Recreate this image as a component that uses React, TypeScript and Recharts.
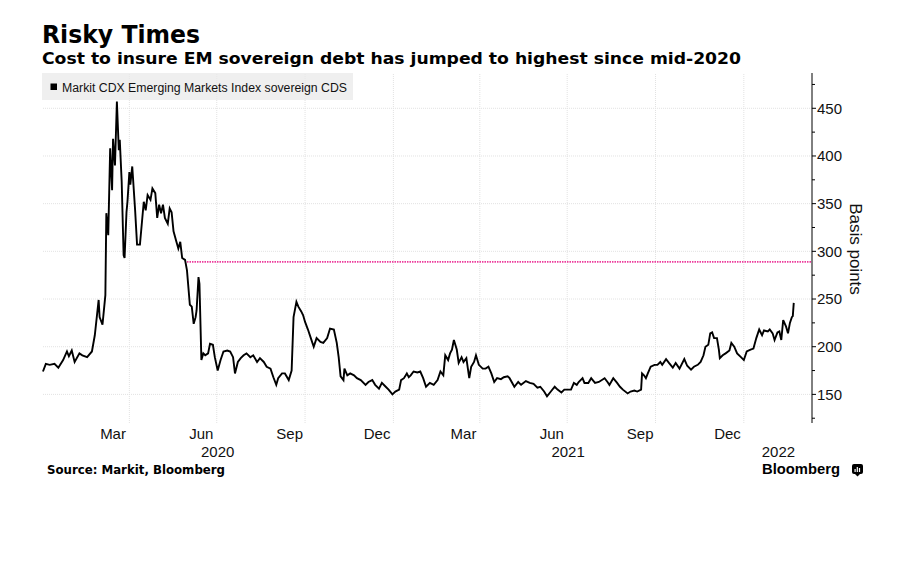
import React from "react";
import { LineChart, Line, XAxis, YAxis, ReferenceLine } from "recharts";

// Markit CDX EM sovereign index, basis points
const dates = [
  "2020-01-02", "2020-01-05", "2020-01-09", "2020-01-14", "2020-01-18", "2020-01-23", "2020-01-27", "2020-01-29",
  "2020-02-01", "2020-02-04", "2020-02-09", "2020-02-12", "2020-02-17", "2020-02-22", "2020-02-25", "2020-02-29",
  "2020-03-01", "2020-03-04", "2020-03-07", "2020-03-08", "2020-03-10", "2020-03-12", "2020-03-14", "2020-03-15",
  "2020-03-17", "2020-03-19", "2020-03-21", "2020-03-22", "2020-03-24", "2020-03-26", "2020-03-27", "2020-03-29", "2020-03-30",
  "2020-04-01", "2020-04-02", "2020-04-04", "2020-04-07", "2020-04-09", "2020-04-12", "2020-04-16", "2020-04-18",
  "2020-04-20", "2020-04-23", "2020-04-25", "2020-04-28", "2020-04-30",
  "2020-05-02", "2020-05-04", "2020-05-06", "2020-05-08", "2020-05-11", "2020-05-13", "2020-05-15", "2020-05-17",
  "2020-05-20", "2020-05-22", "2020-05-24", "2020-05-26", "2020-05-29", "2020-05-31",
  "2020-06-03", "2020-06-05", "2020-06-07", "2020-06-09", "2020-06-10", "2020-06-12", "2020-06-13", "2020-06-15",
  "2020-06-17", "2020-06-19", "2020-06-22", "2020-06-24", "2020-06-27", "2020-06-29",
  "2020-07-02", "2020-07-05", "2020-07-08", "2020-07-12", "2020-07-15", "2020-07-18", "2020-07-20", "2020-07-23", "2020-07-26", "2020-07-29",
  "2020-08-01", "2020-08-05", "2020-08-08", "2020-08-12", "2020-08-15", "2020-08-19", "2020-08-22", "2020-08-26", "2020-08-29",
  "2020-09-01", "2020-09-03", "2020-09-07", "2020-09-10", "2020-09-14", "2020-09-17", "2020-09-19", "2020-09-22", "2020-09-24", "2020-09-27", "2020-09-29",
  "2020-10-01", "2020-10-04", "2020-10-07", "2020-10-10", "2020-10-13", "2020-10-17", "2020-10-20", "2020-10-24", "2020-10-27", "2020-10-31",
  "2020-11-03", "2020-11-05", "2020-11-07", "2020-11-10", "2020-11-11", "2020-11-14", "2020-11-17", "2020-11-21", "2020-11-24", "2020-11-28",
  "2020-12-03", "2020-12-06", "2020-12-10", "2020-12-13", "2020-12-17", "2020-12-20", "2020-12-24", "2020-12-27", "2020-12-31",
  "2021-01-03", "2021-01-07", "2021-01-09", "2021-01-12", "2021-01-15", "2021-01-17", "2021-01-19", "2021-01-22", "2021-01-26", "2021-01-29",
  "2021-02-01", "2021-02-04", "2021-02-08", "2021-02-12", "2021-02-16", "2021-02-19", "2021-02-22", "2021-02-24", "2021-02-27",
  "2021-03-01", "2021-03-03", "2021-03-05", "2021-03-08", "2021-03-10", "2021-03-13", "2021-03-15", "2021-03-18",
  "2021-03-21", "2021-03-23", "2021-03-26", "2021-03-28", "2021-03-31",
  "2021-04-04", "2021-04-07", "2021-04-10", "2021-04-13", "2021-04-16", "2021-04-19", "2021-04-23", "2021-04-26", "2021-04-30",
  "2021-05-02", "2021-05-07", "2021-05-11", "2021-05-14", "2021-05-19", "2021-05-23", "2021-05-27", "2021-05-31",
  "2021-06-03", "2021-06-07", "2021-06-10", "2021-06-14", "2021-06-18", "2021-06-21", "2021-06-25", "2021-06-28",
  "2021-07-02", "2021-07-05", "2021-07-08", "2021-07-11", "2021-07-13", "2021-07-17", "2021-07-19", "2021-07-23", "2021-07-26", "2021-07-30",
  "2021-08-03", "2021-08-09", "2021-08-12", "2021-08-14", "2021-08-18", "2021-08-22", "2021-08-25", "2021-08-28",
  "2021-09-02", "2021-09-05", "2021-09-09", "2021-09-12", "2021-09-16", "2021-09-17", "2021-09-19", "2021-09-21", "2021-09-23", "2021-09-26", "2021-09-30",
  "2021-10-03", "2021-10-06", "2021-10-08", "2021-10-12", "2021-10-15", "2021-10-19", "2021-10-22", "2021-10-26", "2021-10-31",
  "2021-11-03", "2021-11-07", "2021-11-10", "2021-11-14", "2021-11-17", "2021-11-20", "2021-11-22", "2021-11-25", "2021-11-27", "2021-11-29",
  "2021-12-01", "2021-12-04", "2021-12-06", "2021-12-07", "2021-12-10", "2021-12-13", "2021-12-17", "2021-12-19", "2021-12-22", "2021-12-25", "2021-12-29",
  "2022-01-01", "2022-01-04", "2022-01-08", "2022-01-11", "2022-01-14", "2022-01-17", "2022-01-20", "2022-01-22", "2022-01-26", "2022-01-28", "2022-01-31",
  "2022-02-02", "2022-02-05", "2022-02-07", "2022-02-09", "2022-02-11", "2022-02-14", "2022-02-16", "2022-02-18", "2022-02-20", "2022-02-21", "2022-02-22",
];

const cds = [
  174, 182, 181, 182, 178, 186, 195, 190,
  196, 184, 193, 191, 189, 195, 212, 249,
  231, 223, 254, 340, 317, 408, 364, 418,
  390, 457, 406, 417, 373, 296, 293, 341, 352,
  383, 370, 389, 343, 307, 307, 352, 343,
  359, 354, 366, 361, 335,
  349, 340, 349, 335, 329, 345, 341, 321,
  310, 303, 310, 293, 291, 280,
  244, 242, 224, 231, 238, 273, 266, 186,
  193, 191, 193, 203, 202, 189,
  175, 186, 195, 196, 195, 189, 172, 184, 188, 191,
  193, 189, 191, 184, 188, 184, 179, 177, 168,
  160, 167, 172, 172, 165, 175, 231, 247, 242, 237, 233,
  226, 218, 209, 200, 209, 205, 204, 209, 219, 218,
  204, 189, 169, 165, 177, 170, 172, 170, 167, 165,
  160, 163, 165, 160, 156, 162, 158, 155, 150,
  153, 155, 165, 167, 172, 168, 170, 174, 173, 174,
  167, 158, 162, 160, 165, 174, 170, 191, 186,
  193, 197, 207, 197, 183, 189, 184, 188,
  167, 179, 184, 191, 181,
  177, 177, 179, 172, 163, 167, 166, 168, 169,
  167, 158, 163, 160, 164, 162, 161, 157,
  158, 153, 148, 153, 158, 155, 152, 155,
  155, 155, 162, 160, 163, 167, 162, 162, 167, 162,
  163, 167, 163, 160, 167, 162, 158, 155,
  151, 153, 154, 153, 155, 172, 170, 167, 172, 179, 181,
  181, 184, 181, 187, 183, 178, 183, 177, 187,
  180, 176, 179, 181, 184, 191, 200, 202, 214, 215,
  209, 209, 197, 188, 191, 193, 196, 204, 200, 193, 189,
  186, 195, 197, 198, 209, 218, 212, 217, 216, 218, 214,
  207, 215, 216, 207, 228, 221, 214, 225, 231, 232, 246,
];

const monthTicks = ["2020-03-15", "2020-06-15", "2020-09-15", "2020-12-15", "2021-03-15", "2021-06-15", "2021-09-15", "2021-12-15"];
const monthNames = ["Mar", "Jun", "Sep", "Dec", "Mar", "Jun", "Sep", "Dec"];
const yearTicks = ["2020-07-02", "2021-07-02", "2022-02-06"];
const yearNames = ["2020", "2021", "2022"];
const quarterLines = ["2020-04-01", "2020-07-01", "2020-10-01", "2021-01-01", "2021-04-01", "2021-07-01", "2021-10-01", "2022-01-01"];
const yTicks = [125, 150, 175, 200, 225, 250, 275, 300, 325, 350, 375, 400, 425, 450, 475];
const yGrid = [150, 200, 250, 300, 350, 400, 450];
const markLevel = 289;
const markStart = "2020-05-31";
const xStart = "2020-01-01";
const xEnd = "2022-03-13";

const ts = (d: string) => new Date(d).getTime();

const rows = dates.slice(0, cds.length).map((d, i) => ({ t: ts(d), v: cds[i] }));
const monthTs = monthTicks.map(ts);
const yearTs = yearTicks.map(ts);

const axisFont = "'Liberation Sans', Arial, sans-serif";
const boldFont = "'DejaVu Sans', Verdana, sans-serif";

const YTick = (props: any) => {
  const { x, y, payload } = props;
  const major = payload.value % 50 === 0;
  return (
    <g>
      <line x1={x} x2={x + (major ? 4 : 3)} y1={y} y2={y} stroke="#000" />
      {major && (
        <text x={x + 5} y={y} dy="0.36em" fontSize={15} fontFamily={axisFont} fill="#111">
          {payload.value}
        </text>
      )}
    </g>
  );
};

export default function App() {
  const gridStroke = "#e2e2e2";
  return (
    <div style={{ position: "absolute", left: 0, top: 0, width: 897, height: 577, background: "#fff" }}>
      <LineChart width={897} height={577} data={rows} margin={{ top: 73, right: 25, left: 42, bottom: 118 }}>
        <XAxis
          type="number"
          dataKey="t"
          domain={[ts(xStart), ts(xEnd)]}
          allowDataOverflow
          ticks={monthTs}
          interval={0}
          tickFormatter={(v: number) => monthNames[monthTs.indexOf(v)] ?? ""}
          axisLine={false}
          tickLine={false}
          tickSize={4}
          tickMargin={1}
          height={18}
          tick={{ fill: "#111", fontSize: 15, fontFamily: axisFont }}
        />
        <XAxis
          xAxisId="year"
          type="number"
          dataKey="t"
          domain={[ts(xStart), ts(xEnd)]}
          allowDataOverflow
          ticks={yearTs}
          interval={0}
          tickFormatter={(v: number) => yearNames[yearTs.indexOf(v)] ?? ""}
          axisLine={false}
          tickLine={false}
          tickSize={4}
          tickMargin={1}
          height={18}
          tick={{ fill: "#111", fontSize: 15, fontFamily: axisFont }}
        />
        <YAxis
          orientation="right"
          type="number"
          width={60}
          domain={[120, 487]}
          allowDataOverflow
          ticks={yTicks}
          interval={0}
          axisLine={{ stroke: "#000" }}
          tickLine={false}
          tickSize={0}
          tickMargin={0}
          tick={<YTick />}
        />
        {quarterLines.map((q) => (
          <ReferenceLine key={q} x={ts(q)} stroke={gridStroke} strokeDasharray="1 1" />
        ))}
        {yGrid.map((g) => (
          <ReferenceLine key={g} y={g} stroke={gridStroke} strokeDasharray="1 1" />
        ))}
        <ReferenceLine
          segment={[
            { x: ts(markStart), y: markLevel },
            { x: ts(xEnd), y: markLevel },
          ]}
          stroke="#ec3c9c"
          strokeWidth={1.6}
          strokeDasharray="1.5 1"
        />
        <Line
          type="linear"
          dataKey="v"
          stroke="#000"
          strokeWidth={1.9}
          dot={false}
          isAnimationActive={false}
        />
      </LineChart>

      <svg width={897} height={577} style={{ position: "absolute", left: 0, top: 0, pointerEvents: "none" }}>
        <text x={42} y={43} fontSize={24} fontWeight="bold" fontFamily={boldFont} fill="#000" textLength={158} lengthAdjust="spacingAndGlyphs">
          Risky Times
        </text>
        <text x={42} y={64} fontSize={16} fontWeight="bold" fontFamily={boldFont} fill="#000" textLength={699} lengthAdjust="spacingAndGlyphs">
          Cost to insure EM sovereign debt has jumped to highest since mid-2020
        </text>

        <rect x={42} y={73} width={311} height={27} fill="rgba(234,234,234,0.75)" />
        <rect x={50.5} y={83.5} width={6.5} height={6.5} fill="#000" />
        <text x={62} y={91.5} fontSize={12.5} fontFamily={axisFont} fill="#111" textLength={285} lengthAdjust="spacingAndGlyphs">
          Markit CDX Emerging Markets Index sovereign CDS
        </text>

        <text
          x={855}
          y={249}
          fontSize={17}
          fontFamily={axisFont}
          fill="#111"
          textAnchor="middle"
          dominantBaseline="central"
          transform="rotate(90, 855, 249)"
        >
          Basis points
        </text>

        <text x={47} y={474} fontSize={12.5} fontWeight="bold" fontFamily={boldFont} fill="#000" textLength={178} lengthAdjust="spacingAndGlyphs">
          Source: Markit, Bloomberg
        </text>

        <text x={762} y={474} fontSize={15} fontWeight="bold" fontFamily={axisFont} fill="#000" textLength={78} lengthAdjust="spacingAndGlyphs">
          Bloomberg
        </text>
        <rect x={852} y={464} width={11} height={10} rx={2} fill="#000" />
        <rect x={854.5} y={469} width={1.2} height={3} fill="#fff" />
        <rect x={856.7} y={467} width={1.2} height={5} fill="#fff" />
        <rect x={858.9} y={468} width={1.2} height={4} fill="#fff" />
        <path d="M855 474 L857.5 476.5 L860 474 Z" fill="#000" />
      </svg>
    </div>
  );
}
